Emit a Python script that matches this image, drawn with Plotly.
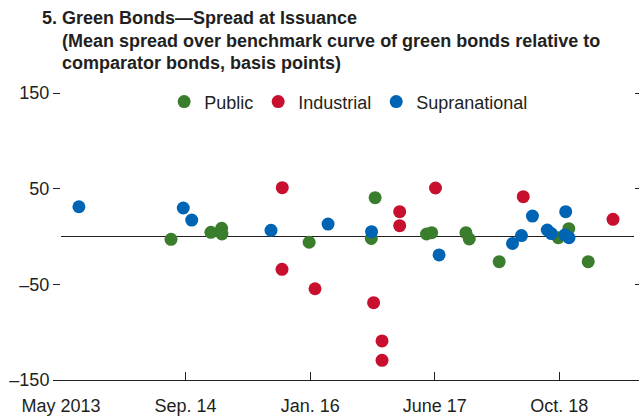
import plotly.graph_objects as go

# ---- Data ----
public_dates = ["2014-07-05", "2014-12-08", "2015-01-19", "2015-01-20", "2015-12-27",
                "2016-09-10", "2016-08-26", "2017-03-30", "2017-04-19", "2017-08-31",
                "2017-09-13", "2018-01-08", "2018-08-27", "2018-10-07", "2018-12-22"]
public_spread = [-3, 4.4, 8.6, 2.6, -6, 40.6, -2, 2.6, 4, 4, -2.6, -26.3, -1.3, 8.2, -26.3]

industrial_dates = ["2015-09-13", "2015-09-12", "2016-01-19", "2016-09-04", "2016-10-07",
                    "2016-10-07", "2016-12-15", "2016-12-15", "2017-05-04", "2018-04-12",
                    "2019-03-29"]
industrial_spread = [51, -34.3, -54.6, -69.2, -109.2, -129.4, 26, 11.3, 50.7, 41.6, 18]

supra_dates = ["2013-07-10", "2014-08-22", "2014-09-24", "2015-07-31", "2016-03-10",
               "2016-08-27", "2017-05-18", "2018-03-01", "2018-04-05", "2018-05-18",
               "2018-07-15", "2018-07-31", "2018-09-25", "2018-09-22", "2018-10-08"]
supra_spread = [31.1, 29.8, 17.2, 6.5, 13, 5, -19.3, -7.3, 1, 21.4, 6.8, 3.1, 25.9, 1.6, -1.3]

x_tick_vals = ["2013-05-01", "2014-08-31", "2015-12-31", "2017-05-01", "2018-08-31"]
x_tick_text = ["May 2013", "Sep. 14", "Jan. 16", "June 17", "Oct. 18"]
x_range = ["2013-05-01", "2019-06-19"]

y_tick_vals = [-150, -50, 50, 150]
y_tick_text = ["\u2013150", "\u201350", "50", "150"]

title_lines = ["5. Green Bonds\u2014Spread at Issuance",
               "(Mean spread over benchmark curve of green bonds relative to",
               "comparator bonds, basis points)"]

GREEN = "#3a7d2c"
RED = "#c8102e"
BLUE = "#0064b4"
FONT = "Liberation Sans, Arial, sans-serif"
INK = "#231f20"

fig = go.Figure()
for name, xs, ys, col in [("Public", public_dates, public_spread, GREEN),
                          ("Industrial", industrial_dates, industrial_spread, RED),
                          ("Supranational", supra_dates, supra_spread, BLUE)]:
    fig.add_trace(go.Scatter(x=xs, y=ys, mode="markers", name=name,
                             marker=dict(size=13, color=col, line=dict(width=0))))

fig.update_layout(
    width=639, height=417,
    margin=dict(l=61, r=5, t=93, b=37, autoexpand=False),
    paper_bgcolor="white", plot_bgcolor="white",
    font=dict(family=FONT, size=18, color=INK),
    showlegend=True,
    legend=dict(orientation="h", x=0.180, y=0.969, xanchor="left", yanchor="middle",
                bgcolor="rgba(0,0,0,0)", font=dict(size=18), itemclick=False,
                tracegroupgap=0),
    xaxis=dict(type="date", range=x_range, tickvals=x_tick_vals, ticktext=x_tick_text,
               showgrid=False, showline=True, linecolor=INK, linewidth=1,
               ticks="inside", ticklen=8, tickcolor=INK, zeroline=False,
               ticklabelstandoff=9, tickfont=dict(size=18), automargin=False),
    yaxis=dict(range=[-150, 150], tickvals=y_tick_vals, ticktext=y_tick_text,
               showgrid=False, showline=True, linecolor="rgba(0,0,0,0)",
               ticks="outside", ticklen=7, tickcolor=INK, tickwidth=1,
               mirror="ticks", zeroline=True, automargin=False,
               zerolinecolor=INK, zerolinewidth=1, tickfont=dict(size=18)),
)

ys_px = [18, 41, 63]
xs_px = [40, 60, 60]
for txt, yp, xp in zip(title_lines, ys_px, xs_px):
    fig.add_annotation(text="<b>" + txt + "</b>", xref="paper", yref="paper",
                       x=(xp - 61) / 573, y=(380 - yp) / 287, xanchor="left", yanchor="middle",
                       showarrow=False, font=dict(size=18, family=FONT, color=INK))

fig.write_html("out.html", config={"displayModeBar": False},
               post_script="document.body.style.margin='0';")
